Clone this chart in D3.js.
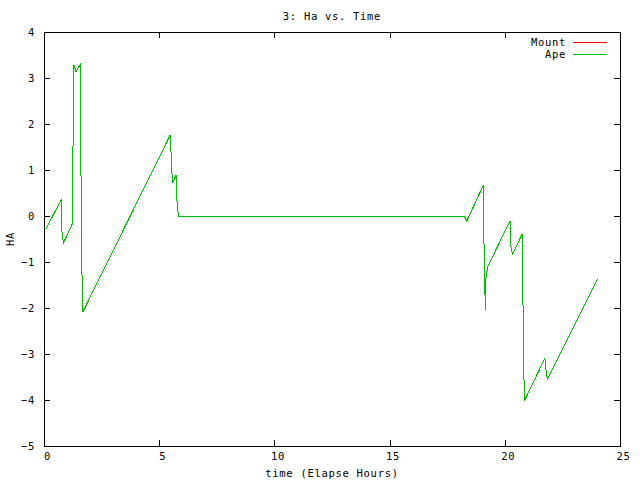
<!DOCTYPE html>
<html>
<head>
<meta charset="utf-8">
<script src="https://cdn.jsdelivr.net/npm/d3@7"></script>
<style>
  body { margin: 0; background: #fff; }
  text { font-family: "DejaVu Sans Mono", monospace; font-size: 10.5px; letter-spacing: 0.7px; fill: #000; }
</style>
</head>
<body>
<div id="viz"></div>
<script>
// values
const hours = [0.09, 0.75, 0.76, 0.78, 0.84, 1.24, 1.26, 1.30, 1.39, 1.58, 1.59, 1.63, 1.68,
  5.48, 5.55, 5.58, 5.73, 5.75, 5.80, 5.83, 18.24, 18.35, 19.07, 19.08, 19.12, 19.16, 19.18,
  19.26, 20.23, 20.25, 20.33, 20.75, 20.78, 20.81, 20.86, 21.74, 21.76, 21.85, 24.03];
const mountHa = [-0.28, 0.36, 0.13, -0.34, -0.59, -0.16, 1.54, 3.28, 3.14, 3.30, 1.98, -0.74, -2.09,
  1.76, 0.96, 0.71, 0.89, 0.42, 0.22, 0.00, 0.00, -0.11, 0.67, 0.00, -1.36, -2.04, -1.36,
  -1.10, -0.10, -0.63, -0.83, -0.40, -1.30, -3.13, -4.01, -3.09, -3.25, -3.55, -1.37];
const apeHa = [-0.28, 0.36, 0.13, -0.34, -0.59, -0.16, 1.54, 3.28, 3.14, 3.30, 1.98, -0.74, -2.09,
  1.76, 0.96, 0.71, 0.89, 0.42, 0.22, 0.00, 0.00, -0.11, 0.67, 0.00, -1.36, -2.04, -1.36,
  -1.10, -0.10, -0.63, -0.83, -0.40, -1.30, -3.13, -4.01, -3.09, -3.25, -3.55, -1.37];
const xTicks = [0, 5, 10, 15, 20, 25];
const yTicks = [-5, -4, -3, -2, -1, 0, 1, 2, 3, 4];
const seriesNames = ['Mount', 'Ape'];
const seriesColors = ['#ff0000', '#00c000'];

const width = 640, height = 480;
const margin = {top: 32, right: 20, bottom: 34, left: 44};
const innerW = width - margin.left - margin.right;
const innerH = height - margin.top - margin.bottom;

const svg = d3.select('#viz').append('svg')
  .attr('width', width)
  .attr('height', height);

const g = svg.append('g')
  .attr('transform', `translate(${margin.left},${margin.top})`);

const x = d3.scaleLinear().domain([0, 25]).range([0, innerW]);
const y = d3.scaleLinear().domain([-5, 4]).range([innerH, 0]);

// gnuplot style ticks: inward, mirrored on all four sides
const tickLen = 6;
g.append('g')
  .attr('transform', `translate(0,${innerH})`)
  .call(d3.axisBottom(x).tickValues(xTicks).tickSizeInner(-tickLen).tickSizeOuter(0).tickPadding(7).tickFormat(d3.format('d')))
  .call(a => a.select('.domain').remove())
  .call(a => a.selectAll('.tick text').attr('dx', 3));
g.append('g')
  .call(d3.axisTop(x).tickValues(xTicks).tickSizeInner(-tickLen).tickSizeOuter(0).tickFormat(''))
  .call(a => a.select('.domain').remove());
g.append('g')
  .call(d3.axisLeft(y).tickValues(yTicks).tickSizeInner(-tickLen).tickSizeOuter(0).tickPadding(9).tickFormat(d3.format('d')))
  .call(a => a.select('.domain').remove());
g.append('g')
  .attr('transform', `translate(${innerW},0)`)
  .call(d3.axisRight(y).tickValues(yTicks).tickSizeInner(-tickLen).tickSizeOuter(0).tickFormat(''))
  .call(a => a.select('.domain').remove());

g.selectAll('.tick line').attr('stroke', '#000').attr('shape-rendering', 'crispEdges');
g.selectAll('.tick text')
  .style('font-family', '"DejaVu Sans Mono", monospace')
  .style('font-size', '10.5px')
  .style('letter-spacing', '0.7px')
  .attr('fill', '#000');

g.append('rect')
  .attr('x', 0).attr('y', 0)
  .attr('width', innerW).attr('height', innerH)
  .attr('fill', 'none').attr('stroke', '#000')
  .attr('shape-rendering', 'crispEdges');

// data lines
const line = d3.line().x(d => x(d[0])).y(d => y(d[1]));
const series = [mountHa, apeHa];
series.forEach((vals, i) => {
  g.append('path')
    .datum(hours.map((h, j) => [h, vals[j]]))
    .attr('d', line)
    .attr('fill', 'none')
    .attr('stroke', seriesColors[i])
    .attr('stroke-width', 1)
    .attr('shape-rendering', 'crispEdges');
});

// legend
seriesNames.forEach((name, i) => {
  const ly = 42 + i * 12 - margin.top;
  g.append('text')
    .attr('x', 566 - margin.left).attr('y', ly)
    .attr('dy', '0.35em')
    .attr('text-anchor', 'end')
    .text(name);
  g.append('line')
    .attr('x1', 573 - margin.left).attr('x2', 607 - margin.left)
    .attr('y1', ly + 0.5).attr('y2', ly + 0.5)
    .attr('stroke', seriesColors[i])
    .attr('stroke-width', 1.2);
});

// titles
svg.append('text')
  .attr('x', margin.left + innerW / 2).attr('y', 16)
  .attr('dy', '0.35em')
  .attr('text-anchor', 'middle')
  .text('3: Ha vs. Time');

svg.append('text')
  .attr('x', margin.left + innerW / 2).attr('y', 473)
  .attr('dy', '0.35em')
  .attr('text-anchor', 'middle')
  .text('time (Elapse Hours)');

svg.append('text')
  .attr('transform', `translate(10,${margin.top + innerH / 2}) rotate(-90)`)
  .attr('dy', '0.35em')
  .attr('text-anchor', 'middle')
  .text('HA');
</script>
</body>
</html>
